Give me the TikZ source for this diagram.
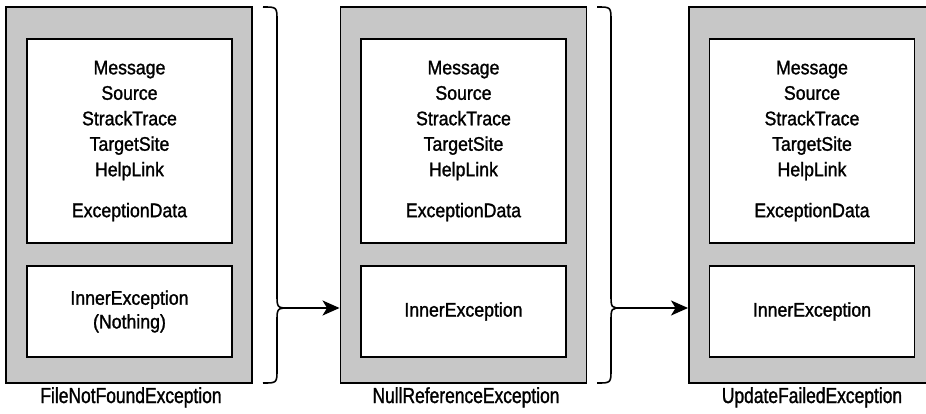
\documentclass[tikz,border=0pt]{standalone}
\usepackage{fontspec}
\setmainfont{Liberation Sans}[FakeStretch=0.9,FakeBold=1.3]
\newfontfamily\namefont{Liberation Sans}[FakeStretch=0.8,FakeBold=1.3]
\usetikzlibrary{arrows.meta,positioning}
\tikzset{
  exframe/.style ={draw,line width=1.1pt,fill=black!22,minimum width=49.2mm,minimum height=75.2mm,inner sep=0pt},
  propbox/.style ={draw,line width=1.1pt,fill=white,minimum width=41mm,minimum height=40.8mm,inner sep=0pt,align=center,font=\fontsize{11.2}{14.5}\selectfont},
  innerbox/.style={draw,line width=1.1pt,fill=white,minimum width=41mm,minimum height=18.2mm,inner sep=0pt,align=center,font=\fontsize{11.2}{13.5}\selectfont},
  exname/.style  ={anchor=base,font=\namefont\fontsize{12.4}{14}\selectfont},
  brace/.style   ={line width=0.9pt},
  passon/.style  ={line width=0.9pt,-{Stealth[length=3.4mm,width=3mm,inset=0.9mm]}},
}

\begin{document}
\begin{tikzpicture}[x=0.2mm,y=-0.2mm]
  \useasboundingbox (0,0) rectangle (926,413);
  % first exception
  \node[exframe] (fnf) at (129,195) {};
  \node[propbox] (fnfprops) at (129.5,141) {Message\\Source\\StrackTrace\\TargetSite\\HelpLink\\[8.8pt]ExceptionData};
  \node[innerbox] (fnfinner) at (129.5,311.5) {InnerException\\(Nothing)};
  \node[exname] (fnfname) at (131,403) {FileNotFoundException};
  % second exception
  \node[exframe] (nre) at (463.5,195) {};
  \node[propbox] (nreprops) at (463.5,141) {Message\\Source\\StrackTrace\\TargetSite\\HelpLink\\[8.8pt]ExceptionData};
  \node[innerbox] (nreinner) at (463.5,311.5) {InnerException};
  \node[exname] (nrename) at (466,403) {NullReferenceException};
  % third exception (cut off at the right)
  \node[exframe] (ufe) at (812,195) {};
  \node[propbox] (ufeprops) at (812,141) {Message\\Source\\StrackTrace\\TargetSite\\HelpLink\\[8.8pt]ExceptionData};
  \node[innerbox] (ufeinner) at (812,311.5) {InnerException};
  \node[exname] (ufename) at (812,403) {UpdateFailedException};
  % braces and arrows
  \coordinate (cusp1) at (290,308);
  \coordinate (cusp2) at (622,308);
  \draw[brace] (263,7) .. controls (277,7) .. (277,21) -- (277,294) .. controls (277,308) .. (cusp1)
    .. controls (277,308) .. (277,322) -- (277,369) .. controls (277,383) .. (263,383);
  \draw[brace] (597,7) .. controls (611,7) .. (611,21) -- (611,294) .. controls (611,308) .. (cusp2)
    .. controls (611,308) .. (611,322) -- (611,369) .. controls (611,383) .. (597,383);
  \draw[passon] (cusp1) -- (cusp1 -| nre.west);
  \draw[passon] (cusp2) -- (cusp2 -| ufe.west);
\end{tikzpicture}
\end{document}
